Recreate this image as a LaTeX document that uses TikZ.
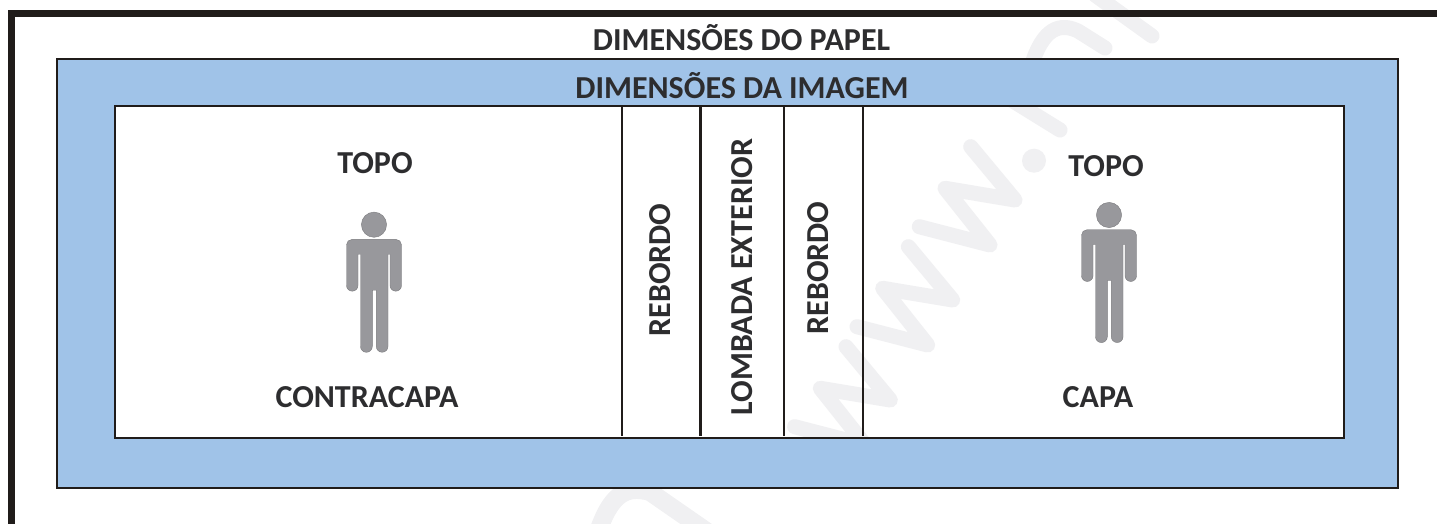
\documentclass[tikz,border=0pt]{standalone}
\usepackage{fontspec}
\setmainfont{Carlito}
\usetikzlibrary{positioning}
\definecolor{inkblack}{RGB}{32,28,26}
\definecolor{textblack}{RGB}{45,45,47}
\definecolor{imageblue}{RGB}{160,195,232}
\definecolor{persongrey}{RGB}{152,152,156}
\definecolor{markgrey}{RGB}{240,240,242}
\tikzset{
  x = 1pt,
  y = -1pt,
  frameline/.style={
    draw       = inkblack,
    line width = 7pt},
  imgbox/.style={
    draw           = inkblack,
    fill           = imageblue,
    line width     = 2.8pt,
    outer sep      = 0pt,
    minimum width  = 1341pt,
    minimum height = 429pt,
    inner sep      = 0pt},
  coverbox/.style={
    fill           = white,
    outer sep      = 0pt,
    minimum width  = 1229pt,
    minimum height = 332pt,
    inner sep      = 0pt},
  coverline/.style={
    draw       = inkblack,
    line width = 2.8pt},
  fold/.style={
    draw       = inkblack,
    line width = 2.2pt},
  label/.style={
    text      = textblack,
    font      = \fontsize{32}{36}\selectfont\bfseries,
    inner sep = 0pt},
  spine/.style={
    label,
    rotate = 90},
  markstroke/.style={
    draw       = markgrey,
    line width = 15pt,
    line cap   = round,
    line join  = round},
  person/.pic={
    \fill[persongrey, draw=persongrey!80!black, line width=0.4pt]
      (0,0) circle[radius=12.6];
    \fill[persongrey, draw=persongrey!80!black, line width=0.4pt]
      (-22,14.7) -- (22,14.7)
      arc[start angle=90, end angle=0, radius=5.5, y radius=-5.5]
      -- (27.5,60.7)
      arc[start angle=0, end angle=-180, radius=5.75, y radius=-5.75]
      -- (16,29.5) -- (14,29.5)
      -- (14,121.7)
      arc[start angle=0, end angle=-180, radius=5.85, y radius=-5.85]
      -- (2.3,65.5) -- (-1.7,65.5)
      -- (-1.7,121.7)
      arc[start angle=0, end angle=-180, radius=5.9, y radius=-5.9]
      -- (-13.5,29.5) -- (-16,29.5)
      -- (-16,60.7)
      arc[start angle=0, end angle=-180, radius=5.75, y radius=-5.75]
      -- (-27.5,20.2)
      arc[start angle=180, end angle=90, radius=5.5, y radius=-5.5]
      -- cycle;
  }
}
% pale background strokes
\newcommand\sitemark{%
  \foreach \dx/\dy in {0/0,-62.3/100,-124.7/200}{
    \draw[markstroke, shift={(\dx,\dy)}]
      (970.7,146.7) -- (1015,200) -- (945,188.3) -- (990,245) -- (919.3,226.7);
  }
  \fill[markgrey] (1034,160.7) circle[radius=12];
  \draw[markstroke] (1060,130) -- (1005,96);
  \draw[markstroke] (1030,70) .. controls (1040,35) and (1055,20) .. (1078,31) -- (1105,48);
  \draw[markstroke] (1152,36) -- (1095,-5);
  \draw[markstroke, line width=18pt] (597,535) .. controls (610,495) and (625,485) .. (650,492) -- (712,535);
}

\begin{document}
\begin{tikzpicture}

\useasboundingbox (0,0) rectangle (1437,524);
\begin{scope}
  \clip (0,0) rectangle (1437,524);
  \sitemark
\end{scope}

\coordinate (cornerfoot) at (11.5,524);
\coordinate (cornerend)  at (1437,13.5);
\draw[frameline] (cornerfoot) |- (cornerend);

\node[label] (paper) at (741.5,38) {DIMENSÕES DO PAPEL};

\node[imgbox]   (image) at (727.5,273.5) {};
\node[coverbox] (cover) at (729.5,272) {};

\begin{scope}
  \clip (cover.south west) rectangle (cover.north east);
  \sitemark
\end{scope}
\draw[coverline] (cover.south west) rectangle (cover.north east);

\node[label] (imagetitle) at (742,85.5) {DIMENSÕES DA IMAGEM};

\foreach \xpos in {622,700.5,784,863}{
  \draw[fold] (\xpos,106) -- (\xpos,436);
}

\node[label] (backtop)  at (375,163)   {TOPO};
\node[label] (backname) at (367,397.5) {CONTRACAPA};
\node[label] (fronttop) at (1106,166)  {TOPO};
\node[label] (frontname) at (1098,397.5) {CAPA};

\node[spine] (flapleft)  at (660.5,270)  {REBORDO};
\node[spine] (spinetext) at (742,277)    {LOMBADA EXTERIOR};
\node[spine] (flapright) at (818,268)    {REBORDO};

\pic (backman)  at (374,224.7) {person};
\pic (frontman) at (1109,215)  {person};

\end{tikzpicture}
\end{document}
